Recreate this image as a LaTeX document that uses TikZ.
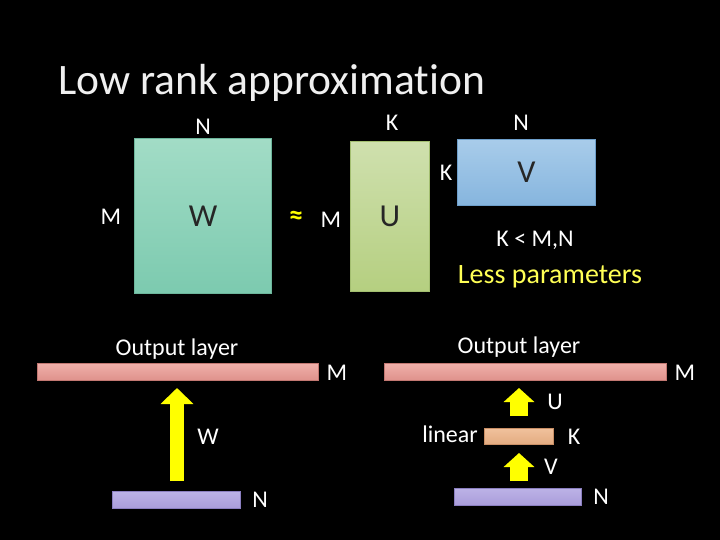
\documentclass[tikz,border=0pt]{standalone}
\usepackage{fontspec}
\setmainfont{Carlito}[Ligatures=NoCommon]
\usetikzlibrary{arrows.meta}
\definecolor{wtop}{HTML}{A2DCC6}
\definecolor{wbot}{HTML}{7CCAAF}
\definecolor{wedge}{HTML}{6DB69C}
\definecolor{utop}{HTML}{CFE0AE}
\definecolor{ubot}{HTML}{B5CF80}
\definecolor{uedge}{HTML}{A3BE70}
\definecolor{vtop}{HTML}{A8CCEA}
\definecolor{vbot}{HTML}{86B5DE}
\definecolor{vedge}{HTML}{6E9FCB}
\definecolor{ptop}{HTML}{EFB0AA}
\definecolor{pbot}{HTML}{DF918B}
\definecolor{pedge}{HTML}{C27872}
\definecolor{ltop}{HTML}{BCB2E6}
\definecolor{lbot}{HTML}{A99CDA}
\definecolor{ledge}{HTML}{8B7FC0}
\definecolor{otop}{HTML}{F0C19C}
\definecolor{obot}{HTML}{E3AB80}
\definecolor{oedge}{HTML}{C98F65}
\definecolor{arr}{HTML}{FFFF00}
\definecolor{lessc}{HTML}{FFFF55}
\tikzset{
  box/.style={inner sep=0pt, anchor=north west, line width=1pt},
  lbl/.style={text=white, inner sep=0pt, font=\fontsize{24}{28}\selectfont},
  big/.style={text=black!85, inner sep=0pt, font=\fontsize{32}{38}\selectfont},
}
\begin{document}
\begin{tikzpicture}[x=1pt,y=-1pt]
\fill[black] (0,0) rectangle (720,540);
\useasboundingbox (0,0) rectangle (720,540);
% title
\node[anchor=base west, inner sep=0pt, text=white!94!black, font=\fontsize{43.5}{50}\selectfont] (title) at (58,95) {Low rank approximation};
% matrices
\node[box, draw=wedge, top color=wtop, bottom color=wbot, minimum width=137pt, minimum height=155pt] (W) at (134,138) {};
\node[box, draw=uedge, top color=utop, bottom color=ubot, minimum width=79pt, minimum height=150pt] (U) at (350,141) {};
\node[box, draw=vedge, top color=vtop, bottom color=vbot, minimum width=138pt, minimum height=66pt] (V) at (457,139) {};
\node[big] (Wl) at (W.center) {W};
\node[big] (Ul) at (U.center) {U};
\node[big] (Vl) at (V.center) {V};
\node[lbl] (WN) at (203,127) {N};
\node[lbl] (WM) at (111,217) {M};
\node[text=arr, inner sep=0pt, font=\fontsize{28}{32}\selectfont\bfseries] (approx) at (296,218) {≈};
\node[lbl] (UM) at (331,220) {M};
\node[lbl] (UK) at (392,123) {K};
\node[lbl] (VN) at (521,123) {N};
\node[lbl] (VK) at (446,173) {K};
\node[lbl] (cond) at (535,240) {K < M,N};
\node[anchor=base, inner sep=0pt, text=lessc, font=\fontsize{28}{32}\selectfont] (less) at (550,283) {Less parameters};
% left network
\node[lbl, anchor=base] (outL) at (177,355) {Output layer};
\node[box, draw=pedge, top color=ptop, bottom color=pbot, minimum width=281pt, minimum height=17pt] (barL) at (37,363) {};
\node[lbl] (barLM) at (337,373) {M};
\node[box, draw=ledge, top color=ltop, bottom color=lbot, minimum width=128pt, minimum height=17pt] (inL) at (112,491) {};
\node[lbl] (inLN) at (260,500) {N};
\coordinate (aLs) at (177,481);
\coordinate (aLe) at (177,388);
\draw[arr, line width=14pt, -{Triangle[width=32pt,length=16pt]}] (aLs) -- (aLe);
\node[lbl] (Wa) at (208,437) {W};
% right network
\node[lbl, anchor=base] (outR) at (519,353) {Output layer};
\node[box, draw=pedge, top color=ptop, bottom color=pbot, minimum width=282pt, minimum height=17pt] (barR) at (384,363) {};
\node[lbl] (barRM) at (685,373) {M};
\node[box, draw=oedge, top color=otop, bottom color=obot, minimum width=69pt, minimum height=16pt] (lin) at (484,428) {};
\node[lbl, anchor=east] (linl) at (478,434) {linear};
\node[lbl] (linK) at (574,437) {K};
\node[box, draw=ledge, top color=ltop, bottom color=lbot, minimum width=127pt, minimum height=17pt] (inR) at (454,488) {};
\node[lbl] (inRN) at (601,497) {N};
\coordinate (aUs) at (519,416);
\coordinate (aUe) at (519,388);
\draw[arr, line width=18pt, -{Triangle[width=30pt,length=14pt]}] (aUs) -- (aUe);
\node[lbl] (Ua) at (555,402) {U};
\coordinate (aVs) at (519,481);
\coordinate (aVe) at (519,453);
\draw[arr, line width=18pt, -{Triangle[width=30pt,length=14pt]}] (aVs) -- (aVe);
\node[lbl] (Va) at (551,467) {V};
\end{tikzpicture}
\end{document}
